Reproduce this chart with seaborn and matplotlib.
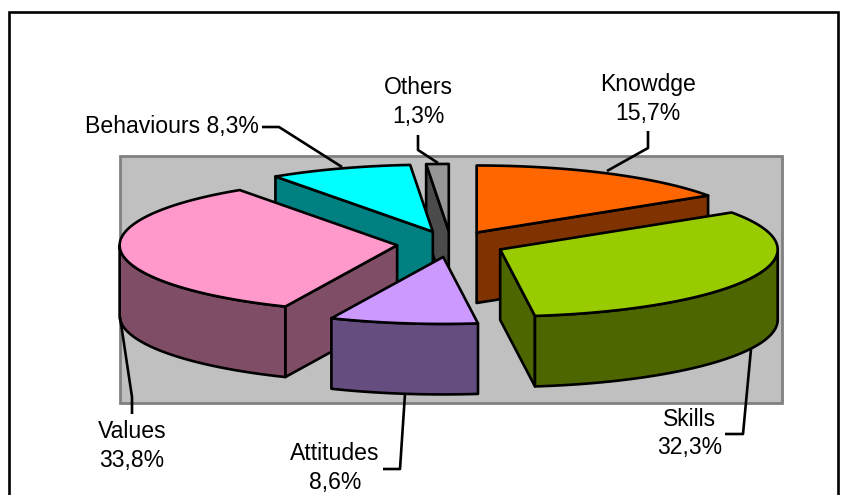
import numpy as np
import matplotlib
matplotlib.use("Agg")
import matplotlib.pyplot as plt
from matplotlib.colors import to_rgb
import seaborn as sns

# ---- data ----
categories = ["Knowdge", "Skills", "Attitudes", "Values", "Behaviours", "Others"]
values = [15.7, 32.3, 8.6, 33.8, 8.3, 1.3]
top_colors = ["#FF6600", "#99CC00", "#CC99FF", "#FF99CC", "#00FFFF", "#969696"]

# ---- layout / style ----
W, H = 846, 495
CX, CY = 451, 244          # pie centre
RX, RY = 277.5, 67         # ellipse radii of each slice
EXPLODE = 0.195            # slice explosion, fraction of radius
DEPTH = 70.5               # extrusion height
LW = 1.9
FS = 16.6
paint_order = ["Knowdge", "Others", "Behaviours", "Values", "Skills", "Attitudes"]

# label anchor: (x, y of the first line centre, ha, layout)
label_pos = {
    "Knowdge": (648, 84.5, "center", "two"),
    "Skills": (690, 419, "center", "two"),
    "Attitudes": (335, 454, "center", "two"),
    "Values": (132, 432, "center", "two"),
    "Behaviours": (259, 126, "right", "one"),
    "Others": (418, 88, "center", "two"),
}
leaders = {
    "Knowdge": [(648, 131), (648, 148), (607, 171)],
    "Skills": [(725, 434), (743, 434), (751, 349)],
    "Attitudes": [(383, 469), (400, 469), (405, 394)],
    "Values": [(132, 414), (132, 397), (120, 317)],
    "Behaviours": [(262, 127), (279, 127), (342, 167)],
    "Others": [(418, 135), (418, 150), (438, 163)],
}
LINE_GAP = 28.7

sns.set_theme(style="white")
plt.rcParams["font.family"] = ["Liberation Sans", "DejaVu Sans"]

fig = plt.figure(figsize=(W / 100, H / 100), dpi=100, facecolor="white")
ax = fig.add_axes([0, 0, 1, 1])
ax.set_xlim(0, W)
ax.set_ylim(H, 0)
ax.axis("off")

# chart frame and plot area
ax.add_patch(plt.Rectangle((9, 12), 829, 500, fc="white", ec="black", lw=LW, zorder=0))
ax.add_patch(plt.Rectangle((120, 156), 662, 247, fc="#C0C0C0", ec="#808080", lw=2.0, zorder=1))


def ell(theta, ax0, ay0):
    t = np.radians(theta)
    return ax0 + RX * np.sin(t), ay0 - RY * np.cos(t)


def draw_slice(name, start, end, z):
    i = categories.index(name)
    top = np.array(to_rgb(top_colors[i]))
    side = tuple(top * 0.5)
    mid = np.radians((start + end) / 2)
    ax0 = CX + EXPLODE * RX * np.sin(mid)
    ay0 = CY - EXPLODE * RY * np.cos(mid)
    kw = dict(edgecolor="black", linewidth=LW, joinstyle="round", zorder=z)

    # radial cut faces, visible when they face the viewer
    for th, vis in ((start, np.sin(np.radians(start)) < -1e-6),
                    (end, np.sin(np.radians(end)) > 1e-6)):
        if vis:
            x, y = ell(th, ax0, ay0)
            ax.fill([ax0, x, x, ax0], [ay0, y, y + DEPTH, ay0 + DEPTH],
                    facecolor=side, **kw)
    # outer curved wall
    a, b = max(start, 90), min(end, 270)
    if a < b:
        th = np.linspace(a, b, 80)
        x, y = ell(th, ax0, ay0)
        ax.fill(np.r_[x, x[::-1]], np.r_[y, y[::-1] + DEPTH], facecolor=side, **kw)
    # top face
    th = np.linspace(start, end, 120)
    x, y = ell(th, ax0, ay0)
    ax.fill(np.r_[ax0, x], np.r_[ay0, y], facecolor=top, **kw)


cum = np.r_[0, np.cumsum(values)] * 360 / np.sum(values)
for k, name in enumerate(paint_order):
    i = categories.index(name)
    draw_slice(name, cum[i], cum[i + 1], 2 + k)

# leader lines and labels
for name, val in zip(categories, values):
    pts = np.array(leaders[name])
    ax.plot(pts[:, 0], pts[:, 1], color="black", lw=LW, zorder=20, solid_capstyle="butt")
    pct = f"{val:.1f}%".replace(".", ",")
    x, y, ha, mode = label_pos[name]
    if mode == "two":
        ax.text(x, y, name, ha=ha, va="center", fontsize=FS, color="black", zorder=21)
        ax.text(x, y + LINE_GAP, pct, ha=ha, va="center", fontsize=FS, color="black", zorder=21)
    else:
        ax.text(x, y, f"{name} {pct}", ha=ha, va="center", fontsize=FS, color="black", zorder=21)

fig.savefig("out.png", dpi=100, facecolor="white")
